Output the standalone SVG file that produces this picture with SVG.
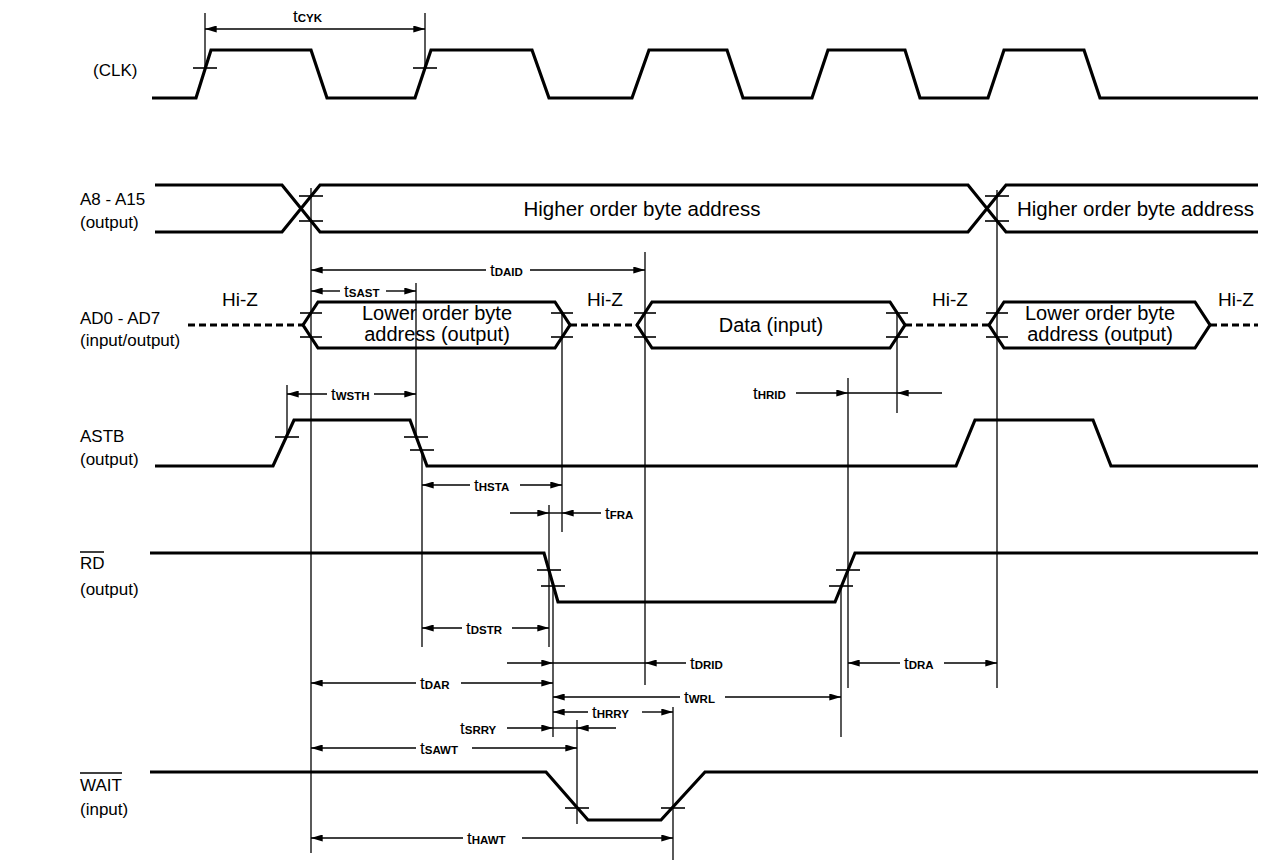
<svg xmlns="http://www.w3.org/2000/svg" width="1264" height="861" viewBox="0 0 1264 861">
<defs>
<marker id="ah" viewBox="0 0 10 6" refX="10" refY="3" markerWidth="12" markerHeight="7" markerUnits="userSpaceOnUse" orient="auto-start-reverse"><path d="M0,0 L10,3 L0,6 z" fill="#000"/></marker>
</defs>
<style>
.sig{fill:none;stroke:#000;stroke-width:3.2;stroke-linejoin:miter}
.hiz{fill:none;stroke:#000;stroke-width:3.2;stroke-dasharray:7 4}
.ref{stroke:#000;stroke-width:1.3;fill:none}
.tick{stroke:#000;stroke-width:1.6}
.dim{stroke:#000;stroke-width:1.4;fill:none}
.a1{marker-end:url(#ah)}
.a0{marker-start:url(#ah)}
.lbl{font-family:"Liberation Sans",Arial,sans-serif;font-size:17px;fill:#000}
.bx{font-family:"Liberation Sans",Arial,sans-serif;font-size:20px;fill:#000;text-anchor:middle}
.tl{font-family:"Liberation Sans",Arial,sans-serif;font-size:17px;fill:#000}
.sub{font-size:11.5px;font-weight:bold}
</style>
<rect width="1264" height="861" fill="#fff"/>

<g id="clk">
<text class="lbl" x="93" y="76">(CLK)</text>
<path class="sig" d="M152,98 H196 L211,50 H311 L327,98 H415 L431,50 H532 L549,98 H632 L649,50 H727 L743,98 H812 L828,50 H905 L920,98 H988 L1004,50 H1084 L1100,98 H1258"/>
<line class="tick" x1="193" y1="68" x2="217" y2="68"/>
<line class="tick" x1="413" y1="68" x2="437" y2="68"/>
</g>

<g id="a8a15">
<text class="lbl" x="80" y="205">A8 - A15</text>
<text class="lbl" x="80" y="228">(output)</text>
<path class="sig" d="M155,185 H282 L320,232 H968 L1006,185 H1258"/>
<path class="sig" d="M155,232 H282 L320,185 H968 L1006,232 H1258"/>
<text class="bx" x="642" y="216" style="font-size:20.5px">Higher order byte address</text>
<text class="lbl" x="1017" y="216" style="font-size:20.5px">Higher order byte address</text>
<line class="tick" x1="299" y1="196" x2="323" y2="196"/>
<line class="tick" x1="299" y1="221" x2="323" y2="221"/>
<line class="tick" x1="985" y1="196" x2="1009" y2="196"/>
<line class="tick" x1="985" y1="221" x2="1009" y2="221"/>
</g>

<g id="ad0ad7">
<text class="lbl" x="80" y="324">AD0 - AD7</text>
<text class="lbl" x="80" y="346">(input/output)</text>
<path class="hiz" d="M188,325 H303"/>
<path class="hiz" d="M570,325 H637"/>
<path class="hiz" d="M905,325 H989"/>
<path class="hiz" d="M1210,325 H1258"/>
<text class="bx" x="240" y="306" style="font-size:19px">Hi-Z</text>
<text class="bx" x="605" y="306" style="font-size:19px">Hi-Z</text>
<text class="bx" x="950" y="306" style="font-size:19px">Hi-Z</text>
<text class="bx" x="1236" y="306" style="font-size:19px">Hi-Z</text>
<path class="sig" d="M303,325 L318,302 H555 L570,325 L555,348 H318 Z"/>
<path class="sig" d="M637,325 L652,302 H890 L905,325 L890,348 H652 Z"/>
<path class="sig" d="M989,325 L1004,302 H1195 L1210,325 L1195,348 H1004 Z"/>
<text class="bx" x="437" y="320">Lower order byte</text>
<text class="bx" x="437" y="341">address (output)</text>
<text class="bx" x="771" y="332">Data (input)</text>
<text class="bx" x="1100" y="320">Lower order byte</text>
<text class="bx" x="1100" y="341">address (output)</text>
<line class="tick" x1="300" y1="313" x2="322" y2="313"/>
<line class="tick" x1="300" y1="337" x2="322" y2="337"/>
<line class="tick" x1="551" y1="313" x2="573" y2="313"/>
<line class="tick" x1="551" y1="337" x2="573" y2="337"/>
<line class="tick" x1="634" y1="313" x2="656" y2="313"/>
<line class="tick" x1="634" y1="337" x2="656" y2="337"/>
<line class="tick" x1="886" y1="313" x2="908" y2="313"/>
<line class="tick" x1="886" y1="337" x2="908" y2="337"/>
<line class="tick" x1="986" y1="313" x2="1008" y2="313"/>
<line class="tick" x1="986" y1="337" x2="1008" y2="337"/>
</g>

<g id="astb">
<text class="lbl" x="80" y="442">ASTB</text>
<text class="lbl" x="80" y="465">(output)</text>
<path class="sig" d="M155,466 H273 L294,420 H410 L427,466 H956 L975,420 H1093 L1111,466 H1258"/>
<line class="tick" x1="275" y1="437" x2="299" y2="437"/>
<line class="tick" x1="404" y1="437" x2="428" y2="437"/>
<line class="tick" x1="410" y1="450" x2="434" y2="450"/>
</g>

<g id="rd">
<text class="lbl" x="80" y="569">RD</text>
<line x1="80" y1="552" x2="104" y2="552" stroke="#000" stroke-width="1.5"/>
<text class="lbl" x="80" y="595">(output)</text>
<path class="sig" d="M150,553 H544 L558,602 H835 L855,553 H1258"/>
<line class="tick" x1="537" y1="570" x2="561" y2="570"/>
<line class="tick" x1="541" y1="586" x2="565" y2="586"/>
<line class="tick" x1="836" y1="570" x2="860" y2="570"/>
<line class="tick" x1="829" y1="586" x2="853" y2="586"/>
</g>

<g id="wait">
<text class="lbl" x="80" y="791">WAIT</text>
<line x1="80" y1="773" x2="122" y2="773" stroke="#000" stroke-width="1.5"/>
<text class="lbl" x="80" y="815">(input)</text>
<path class="sig" d="M150,772 H546 L588,820 H661 L705,772 H1258"/>
<line class="tick" x1="565" y1="808" x2="589" y2="808"/>
<line class="tick" x1="661" y1="808" x2="685" y2="808"/>
</g>

<g id="connectors">
<line class="ref" x1="205" y1="13" x2="205" y2="68"/>
<line class="ref" x1="425" y1="13" x2="425" y2="68"/>
<line class="ref" x1="311" y1="188" x2="311" y2="853"/>
<line class="ref" x1="416" y1="283" x2="416" y2="437"/>
<line class="ref" x1="287" y1="385" x2="287" y2="437"/>
<line class="ref" x1="422" y1="450" x2="422" y2="647"/>
<line class="ref" x1="562" y1="313" x2="562" y2="532"/>
<line class="ref" x1="549" y1="505" x2="549" y2="647"/>
<line class="ref" x1="553" y1="586" x2="553" y2="737"/>
<line class="ref" x1="645" y1="252" x2="645" y2="685"/>
<line class="ref" x1="897" y1="313" x2="897" y2="413"/>
<line class="ref" x1="848" y1="378" x2="848" y2="688"/>
<line class="ref" x1="841" y1="586" x2="841" y2="737"/>
<line class="ref" x1="997" y1="190" x2="997" y2="688"/>
<line class="ref" x1="577" y1="720" x2="577" y2="824"/>
<line class="ref" x1="673" y1="707" x2="673" y2="860"/>

<line class="dim a0 a1" x1="205" y1="29" x2="425" y2="29"/>
<text class="tl" x="293" y="22">t<tspan class="sub">CYK</tspan></text>

<line class="dim a0" x1="311" y1="270" x2="486" y2="270"/>
<line class="dim a1" x1="530" y1="270" x2="645" y2="270"/>
<text class="tl" x="490" y="276">t<tspan class="sub">DAID</tspan></text>

<line class="dim a0" x1="311" y1="291" x2="340" y2="291"/>
<line class="dim a1" x1="386" y1="291" x2="416" y2="291"/>
<text class="tl" x="344" y="297">t<tspan class="sub">SAST</tspan></text>

<line class="dim a0" x1="287" y1="394" x2="327" y2="394"/>
<line class="dim a1" x1="374" y1="394" x2="416" y2="394"/>
<text class="tl" x="331" y="400">t<tspan class="sub">WSTH</tspan></text>

<text class="tl" x="753" y="399">t<tspan class="sub">HRID</tspan></text>
<line class="dim a1" x1="796" y1="393" x2="848" y2="393"/>
<line class="dim" x1="848" y1="393" x2="897" y2="393"/>
<line class="dim a1" x1="942" y1="393" x2="897" y2="393"/>

<line class="dim a0" x1="422" y1="485" x2="470" y2="485"/>
<line class="dim a1" x1="520" y1="485" x2="562" y2="485"/>
<text class="tl" x="474" y="491">t<tspan class="sub">HSTA</tspan></text>

<line class="dim a1" x1="510" y1="513" x2="549" y2="513"/>
<line class="dim" x1="549" y1="513" x2="562" y2="513"/>
<line class="dim a1" x1="601" y1="513" x2="562" y2="513"/>
<text class="tl" x="605" y="519">t<tspan class="sub">FRA</tspan></text>

<line class="dim a0" x1="422" y1="628" x2="462" y2="628"/>
<line class="dim a1" x1="512" y1="628" x2="549" y2="628"/>
<text class="tl" x="466" y="634">t<tspan class="sub">DSTR</tspan></text>

<line class="dim a1" x1="507" y1="663" x2="553" y2="663"/>
<line class="dim" x1="553" y1="663" x2="645" y2="663"/>
<line class="dim a1" x1="686" y1="663" x2="645" y2="663"/>
<text class="tl" x="690" y="669">t<tspan class="sub">DRID</tspan></text>

<line class="dim a0" x1="848" y1="663" x2="900" y2="663"/>
<line class="dim a1" x1="944" y1="663" x2="997" y2="663"/>
<text class="tl" x="904" y="669">t<tspan class="sub">DRA</tspan></text>

<line class="dim a0" x1="311" y1="683" x2="416" y2="683"/>
<line class="dim a1" x1="461" y1="683" x2="553" y2="683"/>
<text class="tl" x="420" y="689">t<tspan class="sub">DAR</tspan></text>

<line class="dim a0" x1="553" y1="697" x2="680" y2="697"/>
<line class="dim a1" x1="725" y1="697" x2="841" y2="697"/>
<text class="tl" x="684" y="703">t<tspan class="sub">WRL</tspan></text>

<line class="dim a0" x1="553" y1="712" x2="588" y2="712"/>
<line class="dim a1" x1="642" y1="712" x2="673" y2="712"/>
<text class="tl" x="592" y="718">t<tspan class="sub">HRRY</tspan></text>

<text class="tl" x="460" y="734">t<tspan class="sub">SRRY</tspan></text>
<line class="dim a1" x1="507" y1="728" x2="553" y2="728"/>
<line class="dim" x1="553" y1="728" x2="577" y2="728"/>
<line class="dim a1" x1="616" y1="728" x2="577" y2="728"/>

<line class="dim a0" x1="311" y1="748" x2="416" y2="748"/>
<line class="dim a1" x1="472" y1="748" x2="577" y2="748"/>
<text class="tl" x="420" y="754">t<tspan class="sub">SAWT</tspan></text>

<line class="dim a0" x1="311" y1="838" x2="463" y2="838"/>
<line class="dim a1" x1="522" y1="838" x2="673" y2="838"/>
<text class="tl" x="467" y="844">t<tspan class="sub">HAWT</tspan></text>
</g>
</svg>
